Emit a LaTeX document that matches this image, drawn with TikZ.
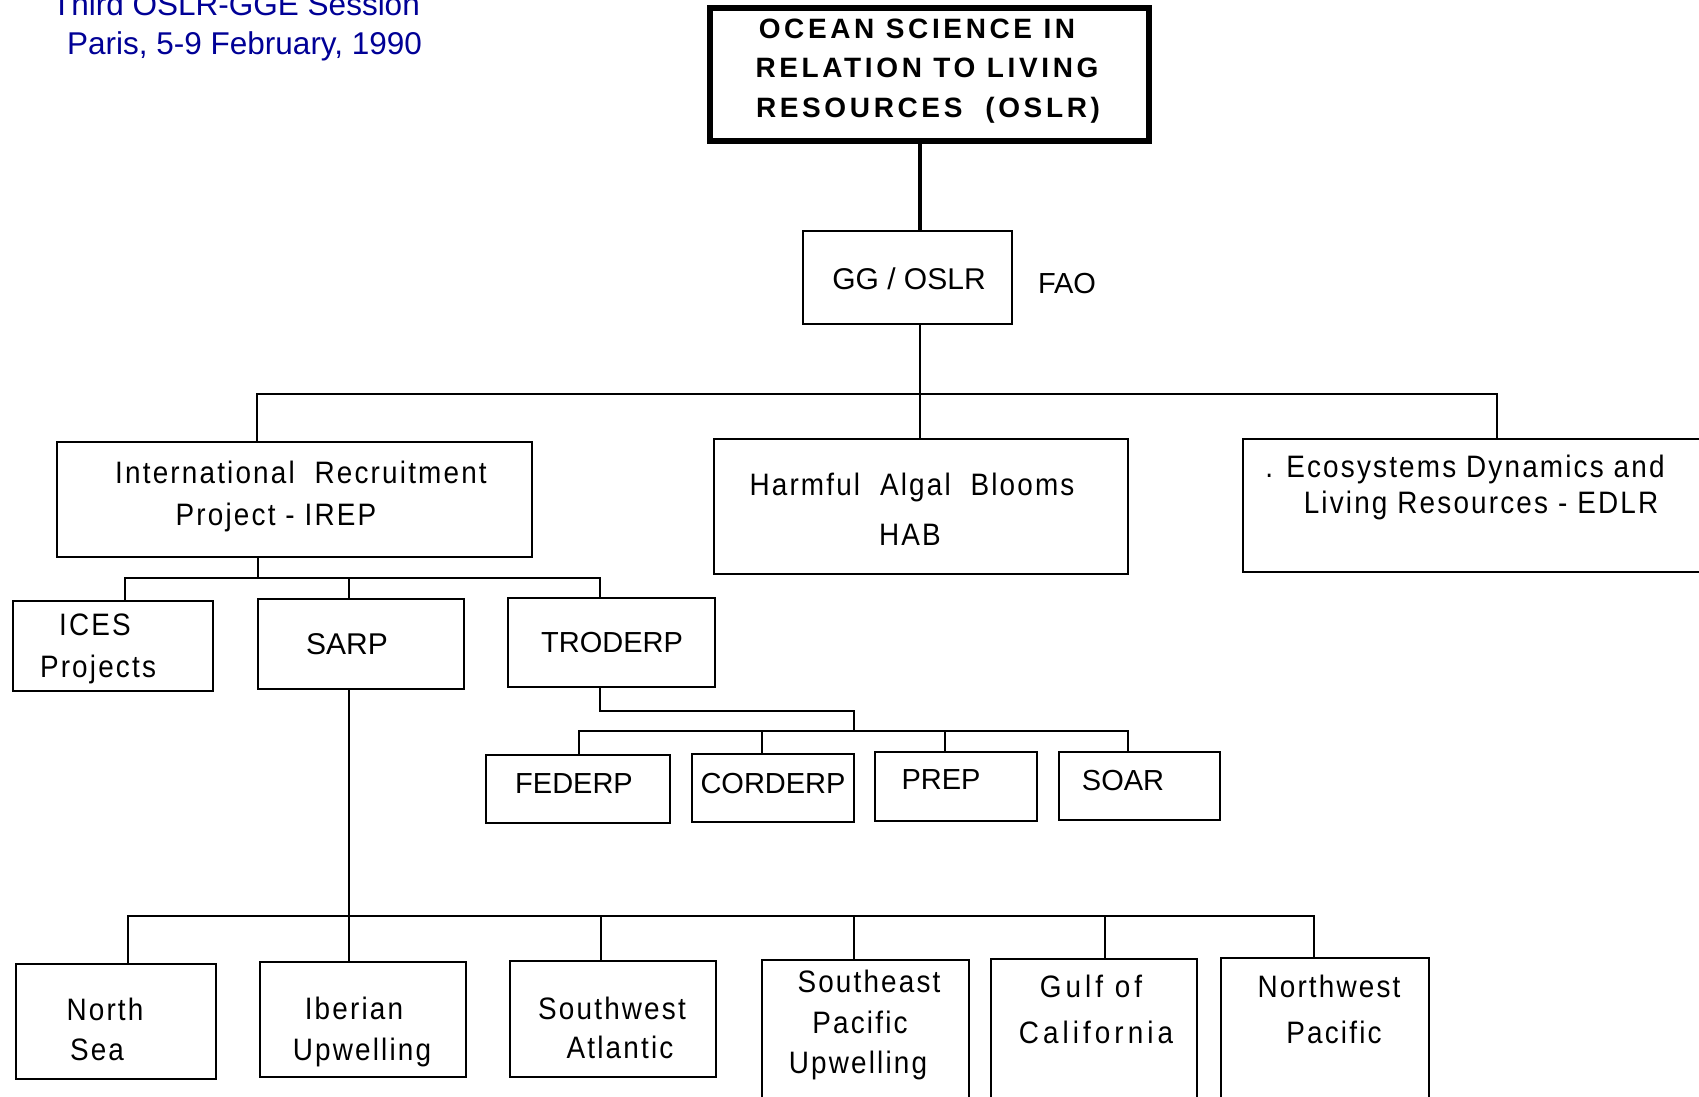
\documentclass[tikz,border=0pt]{standalone}
\usepackage{fontspec}
\setmainfont{Liberation Sans}
\newfontfamily\trkfont[LetterSpace=7,FakeStretch=0.9]{Liberation Sans}
\newfontfamily\trkwfont[LetterSpace=13,FakeStretch=0.9]{Liberation Sans}
\newfontfamily\ttlfont[LetterSpace=13]{Liberation Sans}
\definecolor{hdrblue}{RGB}{0,0,150}
\tikzset{
  box/.style={draw, line width=2.8pt, inner sep=0pt},
  topbox/.style={line width=6pt},
  conn/.style={line width=2.8pt},
  txt/.style={anchor=base, inner sep=0pt, font=\trkfont\fontsize{31}{36}\selectfont},
  wide/.style={font=\trkwfont\fontsize{31}{36}\selectfont},
  acr/.style={font=\fontsize{29}{34}\selectfont},
  acrbig/.style={font=\fontsize{30}{34}\selectfont},
  ttl/.style={font=\ttlfont\bfseries\fontsize{28}{32}\selectfont},
  hdr/.style={anchor=base west, inner sep=0pt, text=hdrblue, font=\fontsize{31.5}{36}\selectfont},
}
\newcommand\mkbox[6][]{\node[box,#1,minimum width={(#5-#3)*1pt},minimum height={(#6-#4)*1pt}] (#2) at ({(#3+#5)/2},{(#4+#6)/2}) {};}
\newcommand\mktext[5][]{\node[txt,#1] (#2) at (#3,#4) {#5};}
\begin{document}
\begin{tikzpicture}[x=1pt,y=-1pt]
\clip (0,0) rectangle (1699,1096);
\fill[white] (0,0) rectangle (1699,1096);

% header
\node[hdr] (h1) at (52,15) {Third OSLR-GGE Session};
\node[hdr] (h2) at (67,54) {Paris, 5-9 February, 1990};

% boxes
\mkbox[topbox]{top}{710}{8}{1149}{141}
\mkbox{gg}{803}{231}{1012}{324}
\mkbox{irep}{57}{442}{532}{557}
\mkbox{hab}{714}{439}{1128}{574}
\mkbox{edlr}{1243}{439}{1712}{572}
\mkbox{ices}{13}{601}{213}{691}
\mkbox{sarp}{258}{599}{464}{689}
\mkbox{trod}{508}{598}{715}{687}
\mkbox{federp}{486}{755}{670}{823}
\mkbox{corderp}{692}{754}{854}{822}
\mkbox{prep}{875}{752}{1037}{821}
\mkbox{soar}{1059}{752}{1220}{820}
\mkbox{ns}{16}{964}{216}{1079}
\mkbox{iber}{260}{962}{466}{1077}
\mkbox{swa}{510}{961}{716}{1077}
\mkbox{sep}{762}{960}{969}{1110}
\mkbox{gulf}{991}{959}{1197}{1110}
\mkbox{nwp}{1221}{958}{1429}{1110}

% texts
\mktext[ttl]{t1}{917}{38}{OCEAN SCIENCE IN}
\mktext[ttl]{t2}{927}{77}{RELATION TO LIVING}
\mktext[ttl]{t3}{928}{117}{RESOURCES\ \ (OSLR)}
\mktext[acrbig]{ggt}{909}{289}{GG / OSLR}
\mktext[acr]{fao}{1067}{293}{FAO}
\mktext{ir1}{301}{483}{International\ \ Recruitment}
\mktext{ir2}{276}{525}{Project - IREP}
\mktext{hb1}{912}{495}{Harmful\ \ Algal\ \ Blooms}
\mktext{hb2}{910}{545}{HAB}
\mktext{ed1}{1465}{477}{. Ecosystems Dynamics and}
\mktext{ed2}{1481}{513}{Living Resources - EDLR}
\mktext{ic1}{95}{635}{ICES}
\mktext{ic2}{98}{677}{Projects}
\mktext[acrbig]{sat}{347}{654}{SARP}
\mktext[acr]{trt}{612}{652}{TRODERP}
\mktext[acr]{fet}{574}{793}{FEDERP}
\mktext[acr]{cot}{773}{793}{CORDERP}
\mktext[acr]{prt}{941}{789}{PREP}
\mktext[acr]{sot}{1123}{790}{SOAR}
\mktext{ns1}{105}{1020}{North}
\mktext{ns2}{97}{1060}{Sea}
\mktext{ib1}{354}{1019}{Iberian}
\mktext{ib2}{362}{1060}{Upwelling}
\mktext{sw1}{612}{1019}{Southwest}
\mktext{sw2}{620}{1058}{Atlantic}
\mktext{se1}{869}{992}{Southeast}
\mktext{se2}{860}{1033}{Pacific}
\mktext{se3}{858}{1073}{Upwelling}
\mktext[wide]{gc1}{1091}{997}{Gulf of}
\mktext[wide]{gc2}{1096}{1043}{California}
\mktext{nw1}{1329}{997}{Northwest}
\mktext{nw2}{1334}{1043}{Pacific}

% junction coordinates
\coordinate (a0) at (257,394);
\coordinate (a1) at (920,394);
\coordinate (a2) at (1497,394);
\coordinate (i0) at (258,578);
\coordinate (i1) at (125,578);
\coordinate (i2) at (349,578);
\coordinate (i3) at (600,578);
\coordinate (r0) at (600,711);
\coordinate (r1) at (854,711);
\coordinate (f1) at (579,731);
\coordinate (f2) at (762,731);
\coordinate (f3) at (945,731);
\coordinate (f4) at (1128,731);
\coordinate (s1) at (128,916);
\coordinate (s2) at (349,916);
\coordinate (s3) at (601,916);
\coordinate (s4) at (854,916);
\coordinate (s5) at (1105,916);
\coordinate (s6) at (1314,916);

% connectors
\draw[conn, line width=3.6pt] (top.south -| a1) -- (gg.north -| a1);
\draw[conn] (gg.south -| a1) -- (hab.north -| a1);
\draw[conn] (irep.north -| a0) -- (a0) -- (a2) -- (edlr.north -| a2);

\draw[conn] (irep.south -| i0) -- (i0);
\draw[conn] (ices.north -| i1) -- (i1) -- (i3) -- (trod.north -| i3);
\draw[conn] (sarp.north -| i2) -- (i2);

\draw[conn] (trod.south -| r0) -- (r0) -- (r1) -- (r1 |- f1);
\draw[conn] (federp.north -| f1) -- (f1) -- (f4) -- (soar.north -| f4);
\draw[conn] (corderp.north -| f2) -- (f2);
\draw[conn] (prep.north -| f3) -- (f3);

\draw[conn] (sarp.south -| s2) -- (iber.north -| s2);
\draw[conn] (ns.north -| s1) -- (s1) -- (s6) -- (nwp.north -| s6);
\draw[conn] (swa.north -| s3) -- (s3);
\draw[conn] (sep.north -| s4) -- (s4);
\draw[conn] (gulf.north -| s5) -- (s5);
\end{tikzpicture}
\end{document}
